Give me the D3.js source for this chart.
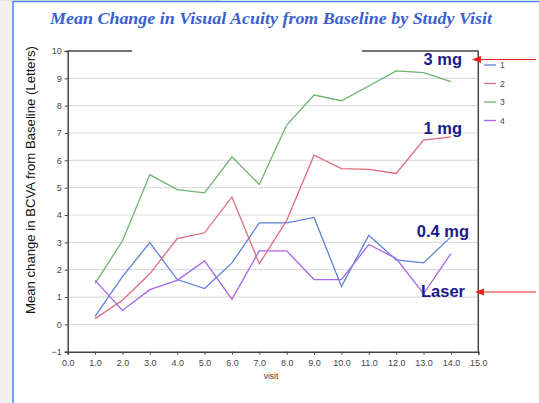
<!DOCTYPE html>
<html><head><meta charset="utf-8">
<script src="https://cdn.jsdelivr.net/npm/d3@7"></script>
<style>body{margin:0;background:#fff}svg{display:block}</style>
</head><body>
<svg id="c" width="539" height="403"></svg>
<script>
const visits = [1,2,3,4,5,6,7,8,9,10,11,12,13,14];
const series1 = [0.29,1.75,2.99,1.64,1.31,2.25,3.71,3.71,3.91,1.39,3.26,2.36,2.25,3.2];
const series2 = [0.21,0.88,1.85,3.14,3.35,4.66,2.22,3.8,6.19,5.70,5.67,5.52,6.74,6.86];
const series3 = [1.5,3.05,5.48,4.93,4.81,6.13,5.12,7.29,8.39,8.18,8.72,9.27,9.21,8.88];
const series4 = [1.61,0.51,1.27,1.61,2.32,0.92,2.69,2.69,1.64,1.64,2.92,2.41,1.12,2.59];
const seriesNames = ["1","2","3","4"];
const seriesColors = ["#5b80d8","#df6b7b","#6bb46b","#a866e6"];
const xTicks = d3.range(0,15.01,1);
const yTicks = d3.range(-1,10.01,1);
const annotations = ["3 mg","1 mg","0.4 mg","Laser"];

const svg = d3.select("#c");
// page frame
svg.append("rect").attr("x",0).attr("y",0).attr("width",12).attr("height",403).attr("fill","#f0f0f0");
svg.append("rect").attr("x",0).attr("y",0).attr("width",220).attr("height",1).attr("fill","#e8e8e8");
svg.append("line").attr("x1",13).attr("x2",13).attr("y1",1).attr("y2",403).attr("stroke","#4d82f0").attr("stroke-width",1.5);
svg.append("line").attr("x1",13).attr("x2",539).attr("y1",1.5).attr("y2",1.5).attr("stroke","#4d82f0").attr("stroke-width",1.5);

svg.append("text").attr("x",271).attr("y",24).attr("text-anchor","middle")
  .attr("font-family","Liberation Serif, DejaVu Serif, serif").attr("font-weight","bold").attr("font-style","italic")
  .attr("font-size",17).attr("fill","#3a5fcd").attr("textLength",442).attr("lengthAdjust","spacingAndGlyphs")
  .text("Mean Change in Visual Acuity from Baseline by Study Visit");

const x = d3.scaleLinear().domain([0,15]).range([67.7,478.3]);
const y = d3.scaleLinear().domain([-1,10]).range([351.7,51]);

// gridlines
svg.append("g").selectAll("line").data(yTicks.filter(d=>d>-1&&d<10)).join("line")
  .attr("x1",x(0)).attr("x2",x(15)).attr("y1",d=>y(d)).attr("y2",d=>y(d))
  .attr("stroke","#dedede").attr("stroke-width",1.2);

// axes
const gx = svg.append("g").attr("transform",`translate(0,${y(-1)})`)
  .call(d3.axisBottom(x).tickValues(xTicks).tickFormat(d3.format(".1f")).tickSizeOuter(0).tickSize(3));
const gy = svg.append("g").attr("transform",`translate(${x(0)},0)`)
  .call(d3.axisLeft(y).tickValues(yTicks).tickFormat(d3.format("d")).tickSizeOuter(0).tickSize(3));
[gx,gy].forEach(g=>{
  g.select(".domain").attr("stroke","#444").attr("stroke-width",1.5);
  g.selectAll(".tick line").attr("stroke","#444");
  g.selectAll(".tick text").attr("fill","#444").attr("font-family","Liberation Sans, Arial, sans-serif").attr("font-size",9);
});
gx.selectAll(".tick text").attr("dy","0.9em");
// right axis and broken top line
svg.append("line").attr("x1",x(15)).attr("x2",x(15)).attr("y1",y(10)).attr("y2",y(-1)).attr("stroke","#444").attr("stroke-width",1.5);
svg.append("line").attr("x1",x(0)).attr("x2",132).attr("y1",y(10)).attr("y2",y(10)).attr("stroke","#444").attr("stroke-width",1.5);
svg.append("line").attr("x1",362).attr("x2",x(15)).attr("y1",y(10)).attr("y2",y(10)).attr("stroke","#444").attr("stroke-width",1.5);

// axis labels
svg.append("text").attr("transform",`translate(35,180) rotate(-90)`).attr("text-anchor","middle")
  .attr("font-family","Liberation Sans, Arial, sans-serif").attr("font-size",12).attr("fill","#111")
  .attr("textLength",268).attr("lengthAdjust","spacingAndGlyphs")
  .text("Mean change in BCVA from Baseline (Letters)");
svg.append("text").attr("x",271).attr("y",379).attr("text-anchor","middle")
  .attr("font-family","Liberation Sans, Arial, sans-serif").attr("font-size",8.5).attr("fill","#444").text("visit");

// lines
const allSeries = [series1,series2,series3,series4];
const line = d3.line().x((d,i)=>x(visits[i])).y(d=>y(d));
allSeries.forEach((s,k)=>{
  svg.append("path").datum(s).attr("d",line).attr("fill","none")
    .attr("stroke",seriesColors[k]).attr("stroke-width",1.3);
});

// legend
const lg = svg.append("g");
seriesNames.forEach((n,k)=>{
  const yy = 65 + k*18.5;
  lg.append("line").attr("x1",484).attr("x2",496).attr("y1",yy).attr("y2",yy).attr("stroke",seriesColors[k]).attr("stroke-width",1.3);
  lg.append("text").attr("x",500).attr("y",yy+3).attr("font-family","Liberation Sans, Arial, sans-serif")
    .attr("font-size",8.5).attr("fill","#444").text(n);
});

// annotations
const annPos = {"3 mg":[462,65],"1 mg":[462,134],"0.4 mg":[469,237],"Laser":[465,297]};
annotations.forEach(t=>{
  const p = annPos[t];
  svg.append("text").attr("x",p[0]).attr("y",p[1]).attr("text-anchor","end")
    .attr("font-family","Liberation Sans, Arial, sans-serif").attr("font-weight","bold")
    .attr("font-size",16.5).attr("fill","#1a1a8c").text(t);
});
// arrows
[[59.5,472],[292,475]].forEach(([yy,x2])=>{
  svg.append("line").attr("x1",536).attr("x2",x2+7).attr("y1",yy).attr("y2",yy)
    .attr("stroke","#e8201c").attr("stroke-width",1.2);
  svg.append("path").attr("d",`M${x2},${yy} L${x2+9},${yy-3.5} L${x2+9},${yy+3.5} Z`).attr("fill","#e8201c");
});
</script>
</body></html>
